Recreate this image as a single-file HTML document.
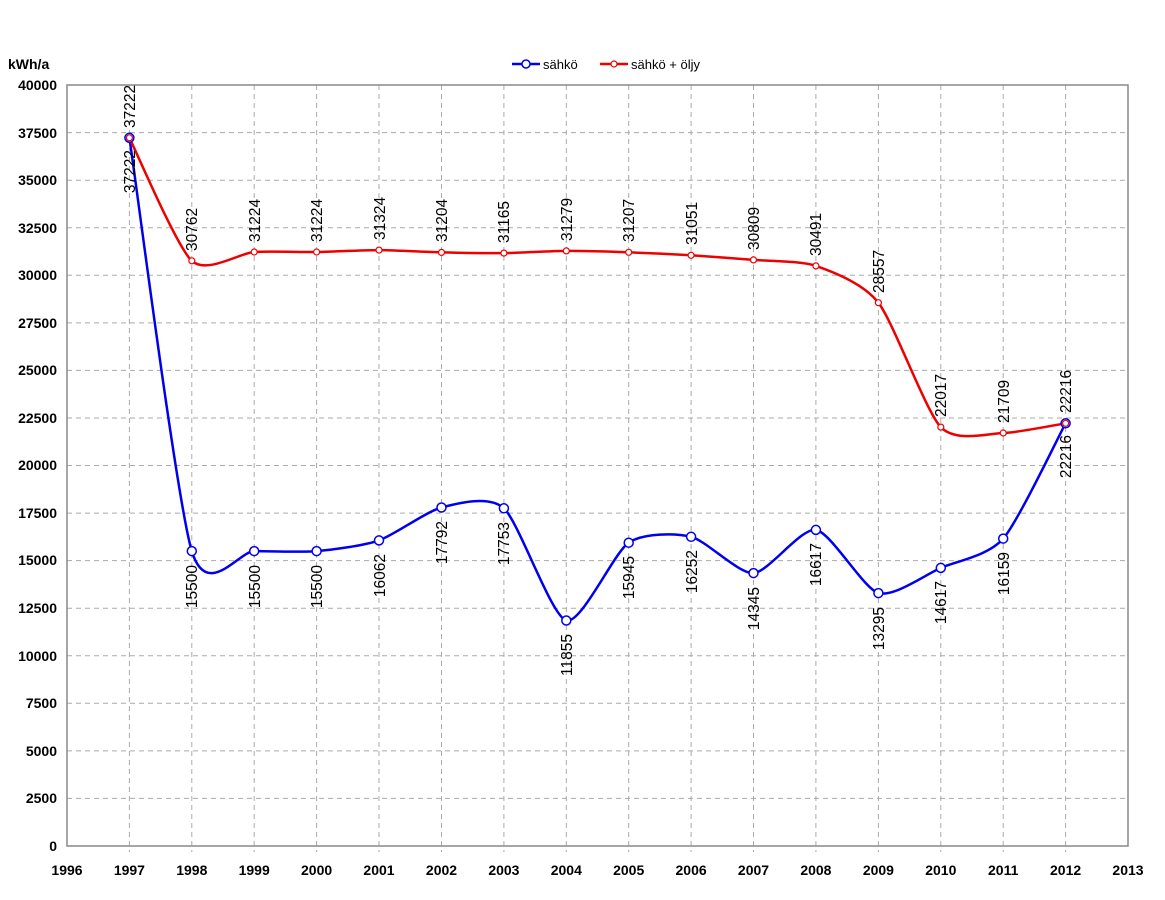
<!DOCTYPE html>
<html><head><meta charset="utf-8"><style>
body{margin:0;background:#fff;}
svg{display:block;font-family:"Liberation Sans",Arial,sans-serif;}
.t{font-size:14px;font-weight:bold;fill:#000}
.l{font-size:15.5px;fill:#000}
.lg{font-size:13px;fill:#000}
</style></head><body>
<svg width="1165" height="900" viewBox="0 0 1165 900">
<g stroke="#aaa" stroke-dasharray="5,4" stroke-width="1">
<line x1="67" x2="1128" y1="132.6" y2="132.6"/><line x1="67" x2="1128" y1="180.2" y2="180.2"/>
<line x1="67" x2="1128" y1="227.8" y2="227.8"/><line x1="67" x2="1128" y1="275.3" y2="275.3"/>
<line x1="67" x2="1128" y1="322.9" y2="322.9"/><line x1="67" x2="1128" y1="370.4" y2="370.4"/>
<line x1="67" x2="1128" y1="418" y2="418"/><line x1="67" x2="1128" y1="465.5" y2="465.5"/>
<line x1="67" x2="1128" y1="513.1" y2="513.1"/><line x1="67" x2="1128" y1="560.6" y2="560.6"/>
<line x1="67" x2="1128" y1="608.2" y2="608.2"/><line x1="67" x2="1128" y1="655.8" y2="655.8"/>
<line x1="67" x2="1128" y1="703.3" y2="703.3"/><line x1="67" x2="1128" y1="750.9" y2="750.9"/>
<line x1="67" x2="1128" y1="798.4" y2="798.4"/>
<line x1="129.4" x2="129.4" y1="85" y2="852"/><line x1="191.8" x2="191.8" y1="85" y2="852"/>
<line x1="254.2" x2="254.2" y1="85" y2="852"/><line x1="316.6" x2="316.6" y1="85" y2="852"/>
<line x1="379" x2="379" y1="85" y2="852"/><line x1="441.5" x2="441.5" y1="85" y2="852"/>
<line x1="503.9" x2="503.9" y1="85" y2="852"/><line x1="566.3" x2="566.3" y1="85" y2="852"/>
<line x1="628.7" x2="628.7" y1="85" y2="852"/><line x1="691.1" x2="691.1" y1="85" y2="852"/>
<line x1="753.5" x2="753.5" y1="85" y2="852"/><line x1="815.9" x2="815.9" y1="85" y2="852"/>
<line x1="878.4" x2="878.4" y1="85" y2="852"/><line x1="940.8" x2="940.8" y1="85" y2="852"/>
<line x1="1003.2" x2="1003.2" y1="85" y2="852"/><line x1="1065.6" x2="1065.6" y1="85" y2="852"/>
</g>
<rect x="67" y="85" width="1061" height="761" fill="none" stroke="#888" stroke-width="1.5"/>
<g class="t" text-anchor="end">
<text x="57" y="90">40000</text><text x="57" y="138">37500</text><text x="57" y="185">35000</text>
<text x="57" y="233">32500</text><text x="57" y="280">30000</text><text x="57" y="328">27500</text>
<text x="57" y="375">25000</text><text x="57" y="423">22500</text><text x="57" y="470">20000</text>
<text x="57" y="518">17500</text><text x="57" y="565">15000</text><text x="57" y="613">12500</text>
<text x="57" y="661">10000</text><text x="57" y="708">7500</text><text x="57" y="756">5000</text>
<text x="57" y="803">2500</text><text x="57" y="851">0</text>
</g>
<text class="t" x="8" y="69">kWh/a</text>
<g class="t" text-anchor="middle">
<text x="67" y="875">1996</text><text x="129.4" y="875">1997</text><text x="191.8" y="875">1998</text>
<text x="254.2" y="875">1999</text><text x="316.6" y="875">2000</text><text x="379" y="875">2001</text>
<text x="441.5" y="875">2002</text><text x="503.9" y="875">2003</text><text x="566.3" y="875">2004</text>
<text x="628.7" y="875">2005</text><text x="691.1" y="875">2006</text><text x="753.5" y="875">2007</text>
<text x="815.9" y="875">2008</text><text x="878.4" y="875">2009</text><text x="940.8" y="875">2010</text>
<text x="1003.2" y="875">2011</text><text x="1065.6" y="875">2012</text><text x="1128" y="875">2013</text>
</g>
<line x1="512" x2="540" y1="64" y2="64" stroke="#0000ee" stroke-width="2.5"/>
<circle cx="526" cy="64" r="4" fill="#fff" stroke="#0000ee" stroke-width="1.5"/>
<text class="lg" x="543" y="69">sähkö</text>
<line x1="600" x2="628" y1="64" y2="64" stroke="#ee0000" stroke-width="2.5"/>
<circle cx="614" cy="64" r="3" fill="#fff" stroke="#ee0000" stroke-width="1.2"/>
<text class="lg" x="631" y="69">sähkö + öljy</text>
<path id="pb" fill="none" stroke="#0000ee" stroke-width="2.5"/>
<path id="pr" fill="none" stroke="#ee0000" stroke-width="2.5"/>
<g id="mk"></g>
<g class="l">
<g text-anchor="end">
<text transform="translate(135,150) rotate(-90)">37222</text>
<text transform="translate(197,565) rotate(-90)">15500</text>
<text transform="translate(260,565) rotate(-90)">15500</text>
<text transform="translate(322,565) rotate(-90)">15500</text>
<text transform="translate(385,554) rotate(-90)">16062</text>
<text transform="translate(447,521) rotate(-90)">17792</text>
<text transform="translate(509,522) rotate(-90)">17753</text>
<text transform="translate(572,634) rotate(-90)">11855</text>
<text transform="translate(634,556) rotate(-90)">15945</text>
<text transform="translate(697,550) rotate(-90)">16252</text>
<text transform="translate(759,587) rotate(-90)">14345</text>
<text transform="translate(821,543) rotate(-90)">16617</text>
<text transform="translate(884,607) rotate(-90)">13295</text>
<text transform="translate(946,581) rotate(-90)">14617</text>
<text transform="translate(1009,552) rotate(-90)">16159</text>
<text transform="translate(1071,435) rotate(-90)">22216</text>
</g>
<g text-anchor="start">
<text transform="translate(135,128) rotate(-90)">37222</text>
<text transform="translate(197,251) rotate(-90)">30762</text>
<text transform="translate(260,242) rotate(-90)">31224</text>
<text transform="translate(322,242) rotate(-90)">31224</text>
<text transform="translate(385,240) rotate(-90)">31324</text>
<text transform="translate(447,242) rotate(-90)">31204</text>
<text transform="translate(509,243) rotate(-90)">31165</text>
<text transform="translate(572,241) rotate(-90)">31279</text>
<text transform="translate(634,242) rotate(-90)">31207</text>
<text transform="translate(697,245) rotate(-90)">31051</text>
<text transform="translate(759,250) rotate(-90)">30809</text>
<text transform="translate(821,256) rotate(-90)">30491</text>
<text transform="translate(884,293) rotate(-90)">28557</text>
<text transform="translate(946,417) rotate(-90)">22017</text>
<text transform="translate(1009,423) rotate(-90)">21709</text>
<text transform="translate(1071,413) rotate(-90)">22216</text>
</g>
</g>
</svg>
<script>
var xs=[129.4,191.8,254.2,316.6,379,441.5,503.9,566.3,628.7,691.1,753.5,815.9,878.4,940.8,1003.2,1065.6];
var b=[137.8,551.1,551.1,551.1,540.4,507.5,508.3,620.5,542.7,536.8,573.1,529.9,593.1,567.9,538.6,423.3];
var r=[137.8,260.8,252,252,250.1,252.4,253.1,250.9,252.3,255.3,259.9,265.9,302.7,427.1,433,423.3];
function path(ys){var p=[];for(var i=0;i<xs.length;i++)p.push([xs[i],ys[i]]);
var d="M"+p[0][0]+","+p[0][1];var t=0.12;
for(var i=0;i<p.length-1;i++){var p0=p[Math.max(i-1,0)],p1=p[i],p2=p[i+1],p3=p[Math.min(i+2,p.length-1)];
d+=" C"+(p1[0]+(p2[0]-p0[0])*t)+","+(p1[1]+(p2[1]-p0[1])*t)+" "+(p2[0]-(p3[0]-p1[0])*t)+","+(p2[1]-(p3[1]-p1[1])*t)+" "+p2[0]+","+p2[1];}
return d;}
document.getElementById("pb").setAttribute("d",path(b));
document.getElementById("pr").setAttribute("d",path(r));
var NS="http://www.w3.org/2000/svg",g=document.getElementById("mk");
function c(x,y,rr,col,w){var e=document.createElementNS(NS,"circle");e.setAttribute("cx",x);e.setAttribute("cy",y);e.setAttribute("r",rr);e.setAttribute("fill","#fff");e.setAttribute("stroke",col);e.setAttribute("stroke-width",w);g.appendChild(e);}
for(var i=0;i<xs.length;i++)c(xs[i],b[i],4.5,"#0000ee",1.5);
for(var i=0;i<xs.length;i++)c(xs[i],r[i],3,"#ee0000",1.2);
</script>
</body></html>
